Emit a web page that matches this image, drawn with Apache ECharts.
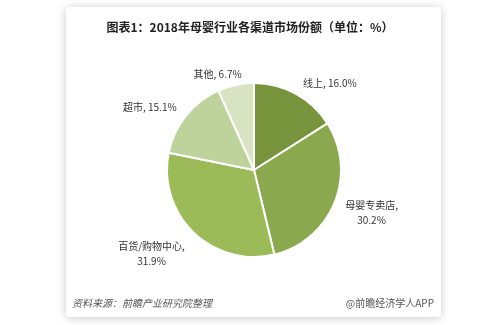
<!DOCTYPE html>
<html>
<head>
<meta charset="utf-8">
<script src="https://cdn.jsdelivr.net/npm/echarts@6/dist/echarts.min.js"></script>
<style>
  html, body { margin: 0; padding: 0; background: #ffffff; }
  #chart { width: 500px; height: 325px; }
</style>
</head>
<body>
<div id="chart"></div>
<script>
// 2018 maternal & infant retail: share of sales by channel (%)
const channels = ['线上', '母婴专卖店', '百货/购物中心', '超市', '其他'];
const shares = [16.0, 30.2, 31.9, 15.1, 6.7];
const sliceColors = ['#77933c', '#8aa84e', '#9bbb59', '#bed29b', '#d7e3c1'];

const titleText = '图表1：2018年母婴行业各渠道市场份额（单位：%）';
const sourceText = '资料来源：前瞻产业研究院整理';
const brandText = '@前瞻经济学人APP';

const font = '"Noto Sans CJK SC", "Noto Sans", sans-serif';
const labelFontSize = 10;

// small nudges so the outside labels sit where the spreadsheet-style layout puts them
const labelNudge = [[-2, -4], [-2, 7], [2, 15], [2, -3], [13, -3]];

const measureCtx = document.createElement('canvas').getContext('2d');
measureCtx.font = labelFontSize + 'px ' + font;

function labelLines(name, value) {
  const pct = value.toFixed(1) + '%';
  return name.length > 3 ? [name + ',', pct] : [name + ', ' + pct];
}

const pieData = channels.map((name, i) => {
  const lines = labelLines(name, shares[i]);
  const w = Math.ceil(Math.max(...lines.map(t => measureCtx.measureText(t).width)));
  return {
    name: name,
    value: shares[i],
    itemStyle: { color: sliceColors[i] },
    label: {
      formatter: lines.map(t => '{c|' + t + '}').join('\n'),
      rich: {
        c: {
          width: w,
          align: 'center',
          fontFamily: font,
          fontSize: labelFontSize,
          color: '#333333',
          lineHeight: 15
        }
      }
    }
  };
});

const chart = echarts.init(document.getElementById('chart'), null, { renderer: 'canvas' });

chart.setOption({
  backgroundColor: '#ffffff',
  animation: false,
  graphic: [
    {
      type: 'rect',
      z: -10,
      shape: { x: 66, y: 7, width: 375, height: 310, r: 4 },
      style: {
        fill: '#ffffff',
        shadowBlur: 10,
        shadowColor: 'rgba(0,0,0,0.22)',
        shadowOffsetX: 0,
        shadowOffsetY: 1
      }
    },
    {
      type: 'text',
      left: 72,
      top: 298,
      style: {
        text: sourceText,
        font: 'italic 10px ' + font,
        fill: '#555555'
      }
    },
    {
      type: 'text',
      right: 66,
      top: 298,
      style: {
        text: brandText,
        font: '10px ' + font,
        fill: '#555555'
      }
    }
  ],
  title: {
    text: titleText,
    left: 'center',
    top: 16,
    textStyle: {
      fontFamily: font,
      fontSize: 12,
      fontWeight: 'bold',
      color: '#222222'
    }
  },
  series: [{
    type: 'pie',
    center: [254, 170],
    radius: [0, 87],
    startAngle: 90,
    clockwise: true,
    data: pieData,
    itemStyle: { borderColor: '#ffffff', borderWidth: 2 },
    label: {
      show: true,
      position: 'outside',
      fontFamily: font,
      fontSize: labelFontSize,
      color: '#333333'
    },
    labelLine: { show: false, length: 8, length2: 0 },
    labelLayout: p => ({ dx: labelNudge[p.dataIndex][0], dy: labelNudge[p.dataIndex][1] }),
    emphasis: { disabled: true }
  }]
});
</script>
</body>
</html>
